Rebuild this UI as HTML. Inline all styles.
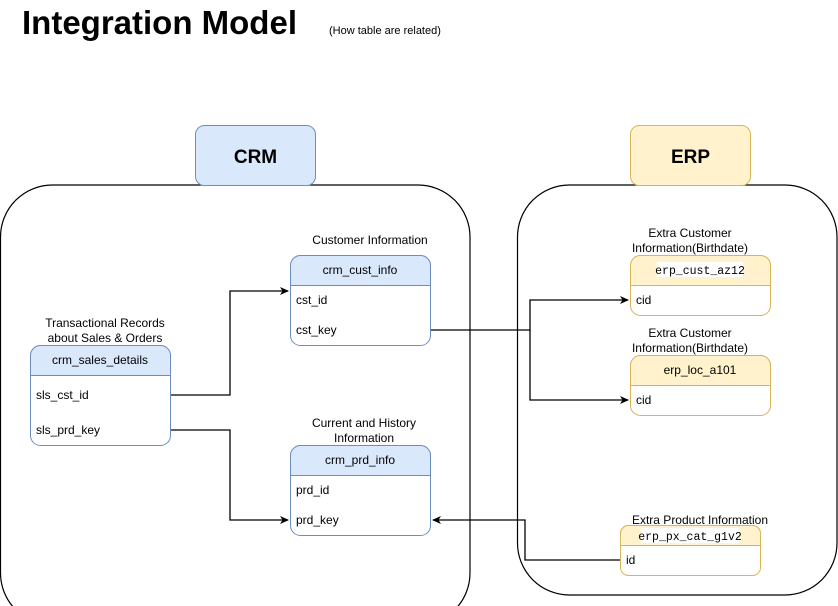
<!DOCTYPE html>
<html><head><style>body{margin:0;background:#fff}svg{display:block;font-family:"Liberation Sans",sans-serif}</style></head>
<body>
<svg width="838" height="606" viewBox="0 0 838 606" xmlns="http://www.w3.org/2000/svg">
<defs><marker id="a" markerWidth="10" markerHeight="10" refX="8" refY="4" orient="auto" markerUnits="userSpaceOnUse"><path d="M0,0 L9,4 L0,8 L2.5,4 Z" fill="#000"/></marker></defs>
<text x="22" y="34" font-size="33" font-weight="bold">Integration Model</text>
<text x="329" y="34" font-size="11">(How table are related)</text>
<!-- containers -->
<rect x="0.5" y="185" width="469.5" height="440" rx="52" fill="none" stroke="#000" stroke-width="1.2"/>
<rect x="517.5" y="185" width="319.5" height="410" rx="52" fill="none" stroke="#000" stroke-width="1.2"/>
<rect x="195.5" y="125.5" width="120" height="60" rx="9" fill="#dae8fc" stroke="#6c8ebf"/>
<text x="255.5" y="163" font-size="19" font-weight="bold" text-anchor="middle">CRM</text>
<rect x="630.5" y="125.5" width="120" height="60" rx="9" fill="#fff2cc" stroke="#d6b656"/>
<text x="690.5" y="163" font-size="19" font-weight="bold" text-anchor="middle">ERP</text>
<!-- connectors -->
<g fill="none" stroke="#000" stroke-width="1.3">
<path d="M170,395 H230 V291 H288" marker-end="url(#a)"/>
<path d="M170,430 H230 V520 H288" marker-end="url(#a)"/>
<path d="M430,330 H530 V300 H628" marker-end="url(#a)"/>
<path d="M530,330 V400 H628" marker-end="url(#a)"/>
<path d="M620,560 H525 V520 H433" marker-end="url(#a)"/>
</g>
<g font-size="12" fill="#000">
<!-- sales -->
<text x="105" y="327" text-anchor="middle">Transactional Records</text>
<text x="105" y="342" text-anchor="middle">about Sales &amp; Orders</text>
<rect x="30.5" y="345.5" width="140" height="100" rx="10" fill="#fff" stroke="#6c8ebf"/>
<path d="M30.5,375.5 V355.5 a10,10 0 0 1 10,-10 H160.5 a10,10 0 0 1 10,10 V375.5 Z" fill="#dae8fc" stroke="#6c8ebf"/>
<text x="100" y="364" text-anchor="middle">crm_sales_details</text>
<text x="36" y="399">sls_cst_id</text>
<text x="36" y="434">sls_prd_key</text>
<!-- cust -->
<text x="370" y="244" text-anchor="middle">Customer Information</text>
<rect x="290.5" y="255.5" width="140" height="90" rx="10" fill="#fff" stroke="#6c8ebf"/>
<path d="M290.5,285.5 V265.5 a10,10 0 0 1 10,-10 H420.5 a10,10 0 0 1 10,10 V285.5 Z" fill="#dae8fc" stroke="#6c8ebf"/>
<text x="360" y="274" text-anchor="middle">crm_cust_info</text>
<text x="296" y="304">cst_id</text>
<text x="296" y="334">cst_key</text>
<!-- prd -->
<text x="364" y="427" text-anchor="middle">Current and History</text>
<text x="364" y="442" text-anchor="middle">Information</text>
<rect x="290.5" y="445.5" width="140" height="90" rx="10" fill="#fff" stroke="#6c8ebf"/>
<path d="M290.5,475.5 V455.5 a10,10 0 0 1 10,-10 H420.5 a10,10 0 0 1 10,10 V475.5 Z" fill="#dae8fc" stroke="#6c8ebf"/>
<text x="360" y="464" text-anchor="middle">crm_prd_info</text>
<text x="296" y="494">prd_id</text>
<text x="296" y="524">prd_key</text>
<!-- erp cust -->
<text x="690" y="237" text-anchor="middle">Extra Customer</text>
<text x="690" y="252" text-anchor="middle">Information(Birthdate)</text>
<rect x="630.5" y="255.5" width="140" height="60" rx="10" fill="#fff" stroke="#d6b656"/>
<path d="M630.5,285.5 V265.5 a10,10 0 0 1 10,-10 H760.5 a10,10 0 0 1 10,10 V285.5 Z" fill="#fff2cc" stroke="#d6b656"/>
<rect x="657" y="262" width="86" height="15" fill="#fff"/>
<text x="700" y="274" text-anchor="middle" font-family="Liberation Mono,monospace" font-size="11.5">erp_cust_az12</text>
<text x="636" y="304">cid</text>
<!-- erp loc -->
<text x="690" y="337" text-anchor="middle">Extra Customer</text>
<text x="690" y="352" text-anchor="middle">Information(Birthdate)</text>
<rect x="630.5" y="355.5" width="140" height="60" rx="10" fill="#fff" stroke="#d6b656"/>
<path d="M630.5,385.5 V365.5 a10,10 0 0 1 10,-10 H760.5 a10,10 0 0 1 10,10 V385.5 Z" fill="#fff2cc" stroke="#d6b656"/>
<text x="700" y="374" text-anchor="middle">erp_loc_a101</text>
<text x="636" y="404">cid</text>
<!-- px -->
<text x="700" y="524" text-anchor="middle">Extra Product Information</text>
<rect x="620.5" y="525.5" width="140" height="50" rx="8" fill="#fff" stroke="#d6b656"/>
<path d="M620.5,545.5 V533.5 a8,8 0 0 1 8,-8 H752.5 a8,8 0 0 1 8,8 V545.5 Z" fill="#fff2cc" stroke="#d6b656"/>
<rect x="641" y="528" width="98" height="15" fill="#fff"/>
<text x="690" y="540" text-anchor="middle" font-family="Liberation Mono,monospace" font-size="11.5">erp_px_cat_g1v2</text>
<text x="626" y="564">id</text>
</g>
</svg>
</body></html>
